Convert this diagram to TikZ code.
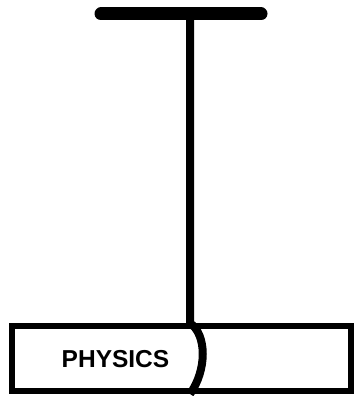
\documentclass[tikz,border=0pt]{standalone}
\usepackage{fontspec}
\setsansfont{Liberation Sans}
\usetikzlibrary{positioning,calc}

\begin{document}
\begin{tikzpicture}[
  x=1pt, y=-1pt,
  font=\sffamily\bfseries,
  %% ─── styles ─────────────────────────────────────────
  bar/.style={line width=13pt, line cap=round},
  rod/.style={line width=8pt},
  plate/.style={draw, line width=6pt, minimum width=339pt, minimum height=65pt, inner sep=0pt},
  tag/.style={font=\fontsize{24.5}{24.5}\selectfont\sffamily\bfseries, inner sep=0pt}
]
  \useasboundingbox (0,0) rectangle (356,396);

  %% ─── 1. plate with label ────────────────────────────
  \node[plate] (plate) at (181.5,358.5) {};
  \node[tag] (name) at (115.5,359.5) {PHYSICS};

  %% ─── 2. top bar ─────────────────────────────────────
  \coordinate (barL) at (101,14);
  \coordinate (barR) at (261,14);
  \coordinate (top) at (190,14);
  \draw[bar] (barL) -- (barR);

  %% ─── 3. rod down into the plate ─────────────────────
  \coordinate (entry) at (plate.north -| top);
  \coordinate (exit) at (plate.south -| top);
  \draw[rod] (top) -- (entry)
    .. controls ($(entry)+(17,12)$) and ($(exit)+(17,-24)$) .. (exit);
\end{tikzpicture}
\end{document}
